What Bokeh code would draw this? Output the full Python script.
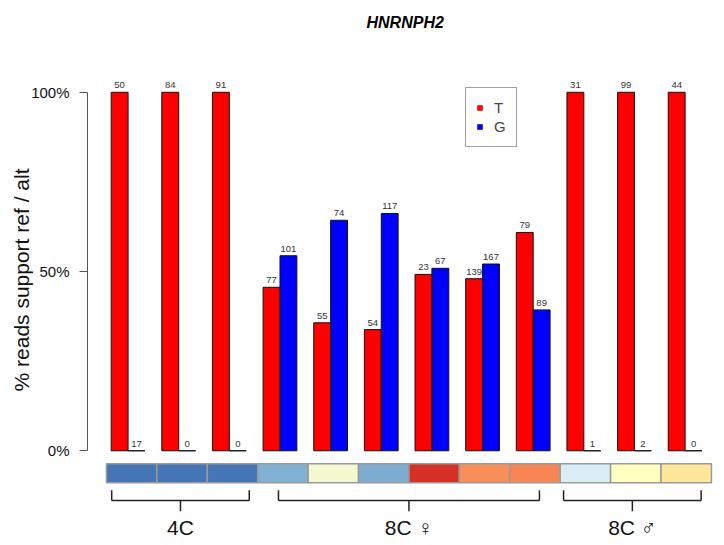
from bokeh.plotting import figure
from bokeh.models import (Range1d, ColumnDataSource, FixedTicker, PrintfTickFormatter,
                          Legend, LegendItem)
from bokeh.embed import file_html
from bokeh.resources import INLINE
from bokeh.core.properties import value

# ---------------- data ----------------
gene = "HNRNPH2"
ref_allele = "T"
alt_allele = "G"
ref_pct = [100, 100, 100, 45.6, 35.7, 33.8, 49.2, 48.0, 60.9, 100, 100, 100]
alt_pct = [0, 0, 0, 54.4, 64.3, 66.2, 50.9, 52.1, 39.3, 0, 0, 0]
ref_counts = [50, 84, 91, 77, 55, 54, 23, 139, 79, 31, 99, 44]
alt_counts = [17, 0, 0, 101, 74, 117, 67, 167, 89, 1, 2, 0]
sample_colors = ["#4575B4", "#4575B4", "#4575B4", "#80B1D3", "#F3F8CF", "#7EADD1",
                 "#D73027", "#FA8E58", "#F88655", "#DAEDF4", "#FFFFC0", "#FEE69A"]
group_names = ["4C", "8C \u2640", "8C \u2642"]
group_sizes = [3, 6, 3]
y_ticks = [0, 50, 100]

FONT = "Liberation Sans"
n = len(ref_pct)

# bar positions (R barplot beside=TRUE, space=c(0,1))
ref_x = [1.5 + 3 * i for i in range(n)]
alt_x = [2.5 + 3 * i for i in range(n)]

p = figure(width=715, height=543,
           x_range=Range1d(-0.403, 36.80), y_range=Range1d(-18.89, 114.167),
           output_backend="svg", toolbar_location=None,
           min_border_left=87, min_border_right=0, min_border_top=39, min_border_bottom=25,
           title=gene)
p.grid.visible = False
p.outline_line_color = None
p.background_fill_color = "white"
p.border_fill_color = "white"

p.title.text_font = FONT
p.title.text_font_size = "16px"
p.title.text_font_style = "bold italic"
p.title.text_color = "#000000"
p.title.align = "left"
p.title.offset = 279
p.title.standoff = 22

src_ref = ColumnDataSource(dict(x=ref_x, top=ref_pct, lab=[str(c) for c in ref_counts]))
src_alt = ColumnDataSource(dict(x=alt_x, top=alt_pct, lab=[str(c) for c in alt_counts]))

r_ref = p.vbar(x="x", top="top", bottom=0, width=1.0, source=src_ref,
               fill_color="#FF0000", line_color=None)
r_alt = p.vbar(x="x", top="top", bottom=0, width=1.0, source=src_alt,
               fill_color="#0000FF", line_color=None)
p.vbar(x="x", top="top", bottom=0, width=1.0, source=src_ref,
       fill_alpha=0, line_color="#111111", line_width=1)
p.vbar(x="x", top="top", bottom=0, width=1.0, source=src_alt,
       fill_alpha=0, line_color="#111111", line_width=1)

for src in (src_ref, src_alt):
    p.text(x="x", y="top", text="lab", source=src, text_align="center",
           text_baseline="middle", y_offset=-7, text_font=value(FONT),
           text_font_size="9.5px", text_color="#333333")

# sample colour strip
strip_l, strip_r = 0.72, 36.56
cw = (strip_r - strip_l) / n
strip_src = ColumnDataSource(dict(x=[strip_l + cw * (i + 0.5) for i in range(n)],
                                  c=sample_colors))
p.rect(x="x", y=-6.25, width=cw, height=5.28, source=strip_src,
       fill_color="c", line_color="#9A9A9A", line_width=1.5)

# group brackets
spans = [(1.03, 9.18), (10.91, 26.37), (27.8, 35.95)]
centers = [round((l + r) / 2, 3) for (l, r) in spans]
yh, ye, yc = -13.89, -11.03, -16.86
x0s, y0s, x1s, y1s = [], [], [], []
for (l, r), m in zip(spans, centers):
    x0s += [l, l, r, m]
    y0s += [yh, ye, ye, yh]
    x1s += [r, l, r, m]
    y1s += [yh, yh, yh, yc]
p.segment(x0=x0s, y0=y0s, x1=x1s, y1=y1s, line_color="#222222", line_width=1.5)

# group labels as x axis
xax = p.xaxis[0]
xax.ticker = FixedTicker(ticks=centers)
xax.major_label_overrides = {c: g for c, g in zip(centers, group_names)}
xax.axis_line_color = None
xax.major_tick_line_color = None
xax.minor_tick_line_color = None
xax.major_tick_out = 0
xax.major_tick_in = 0
xax.major_label_standoff = -3
xax.major_label_text_font = FONT
xax.major_label_text_font_size = "21px"
xax.major_label_text_color = "#111111"

# y axis
ax = p.yaxis[0]
ax.bounds = (0, 100)
ax.ticker = FixedTicker(ticks=y_ticks)
ax.formatter = PrintfTickFormatter(format="%d%%")
ax.minor_tick_line_color = None
ax.major_tick_in = 0
ax.major_tick_out = 8
ax.axis_line_color = "#555555"
ax.major_tick_line_color = "#555555"
ax.major_label_text_font = FONT
ax.major_label_text_font_size = "15px"
ax.major_label_text_color = "#111111"
ax.major_label_standoff = 10
ax.axis_label = "% reads support ref / alt"
ax.axis_label_text_font = FONT
ax.axis_label_text_font_size = "21px"
ax.axis_label_text_font_style = "normal"
ax.axis_label_text_color = "#111111"
ax.axis_label_standoff = -5

legend = Legend(items=[LegendItem(label=ref_allele, renderers=[r_ref]),
                       LegendItem(label=alt_allele, renderers=[r_alt])],
                location=(378, 371), glyph_width=7, glyph_height=7,
                label_standoff=11, label_height=19, label_width=10, spacing=0, padding=10,
                label_text_font=FONT, label_text_font_size="15px",
                border_line_color="#444444", border_line_width=1,
                background_fill_alpha=1)
p.add_layout(legend, "center")

open("out.html", "w").write(file_html(p, INLINE))
